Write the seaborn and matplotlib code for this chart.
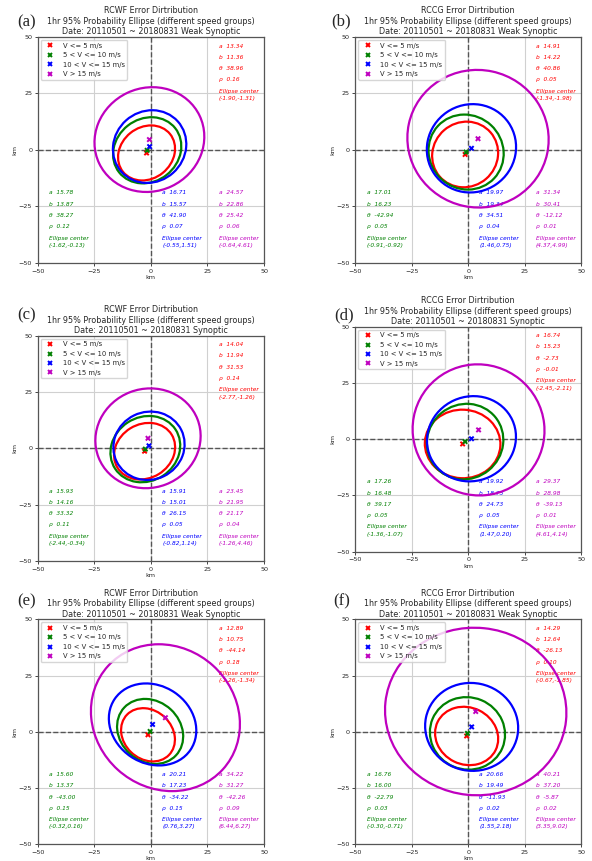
import numpy as np
import pandas as pd
import matplotlib
matplotlib.use('Agg')
import matplotlib.pyplot as plt
from matplotlib.patches import Ellipse
import seaborn as sns

# data
groups = ['V <= 5 m/s', '5 < V <= 10 m/s', '10 < V <= 15 m/s', 'V > 15 m/s']
colors = ['#ff0000', '#008000', '#0000ff', '#bf00bf']

letters = ['(a)', '(b)', '(c)', '(d)', '(e)', '(f)']
radars = ['RCWF', 'RCCG', 'RCWF', 'RCCG', 'RCWF', 'RCCG']
periods = ['Weak Synoptic', 'Weak Synoptic', 'Synoptic', 'Synoptic',
           'Weak Synoptic', 'Weak Synoptic']

semi_a = [[13.34, 15.78, 16.71, 24.57],
          [14.91, 17.01, 19.97, 31.34],
          [14.04, 15.93, 15.91, 23.45],
          [16.74, 17.26, 19.92, 29.37],
          [12.89, 15.60, 20.21, 34.22],
          [14.29, 16.76, 20.66, 40.21]]
semi_b = [[11.36, 13.87, 15.57, 22.86],
          [14.22, 16.23, 19.34, 30.41],
          [11.94, 14.16, 15.01, 21.95],
          [15.23, 16.48, 18.73, 28.98],
          [10.75, 13.37, 17.23, 31.27],
          [12.64, 16.00, 19.49, 37.20]]
theta = [[38.96, 38.27, 41.90, 25.42],
         [40.86, -42.94, 34.51, -12.12],
         [31.53, 33.32, 26.15, 21.17],
         [-2.73, 39.17, 24.73, -39.13],
         [-44.14, -43.00, -34.22, -42.26],
         [-26.13, -22.79, -11.93, -5.87]]
rho = [[0.16, 0.12, 0.07, 0.06],
       [0.05, 0.05, 0.04, 0.01],
       [0.14, 0.11, 0.05, 0.04],
       [-0.01, 0.05, 0.05, 0.01],
       [0.18, 0.15, 0.15, 0.09],
       [0.10, 0.03, 0.02, 0.02]]
center_x = [[-1.90, -1.62, -0.55, -0.64],
            [-1.34, -0.91, 1.46, 4.37],
            [-2.77, -2.44, -0.82, -1.26],
            [-2.45, -1.36, 1.47, 4.61],
            [-1.26, -0.32, 0.76, 6.44],
            [-0.67, -0.30, 1.55, 3.35]]
center_y = [[-1.31, -0.13, 1.51, 4.61],
            [-1.98, -0.92, 0.75, 4.99],
            [-1.26, -0.34, 1.14, 4.46],
            [-2.11, -1.07, 0.20, 4.14],
            [-1.34, 0.16, 3.27, 6.27],
            [-1.85, -0.71, 2.18, 9.02]]

# layout (pixels in the 592x861 image)
W, H = 592, 861
axes_px = [(37.7, 37, 264, 263), (355.3, 37, 581, 263),
           (37.7, 335.7, 264, 561), (355.3, 326.7, 581, 551.7),
           (37.7, 619.3, 264, 844.3), (355.3, 619.3, 581, 844.3)]
letter_px = [(17, 22), (331, 21), (17, 315), (334, 315), (17, 601), (333, 601)]
# where the stats blocks go (data coords): red top right, others along the bottom
text_x = [30, -45, 5, 30]
text_y0 = [46, -19, -19, -19]

sns.set_style('white')
plt.rcParams['font.family'] = ['DejaVu Sans']

fig = plt.figure(figsize=(W / 100, H / 100), dpi=100)

for k in range(6):
    l, t, r, b = axes_px[k]
    ax = fig.add_axes([l / W, 1 - b / H, (r - l) / W, (b - t) / H])

    df = pd.DataFrame({'cx': center_x[k], 'cy': center_y[k], 'group': groups})

    # stats text
    for i in range(4):
        x0, y0 = text_x[i], text_y0[i]
        kw = dict(color=colors[i], fontsize=4.2, fontstyle='italic',
                  ha='left', va='center', zorder=1)
        ax.text(x0, y0, f'a  {semi_a[k][i]:.2f}', **kw)
        ax.text(x0, y0 - 5, f'b  {semi_b[k][i]:.2f}', **kw)
        ax.text(x0, y0 - 10, f'θ  {theta[k][i]:.2f}', **kw)
        ax.text(x0, y0 - 15, f'ρ  {rho[k][i]:.2f}', **kw)
        ax.text(x0, y0 - 20, 'Ellipse center', **kw)
        ax.text(x0, y0 - 23.3, f'({center_x[k][i]:.2f},{center_y[k][i]:.2f})', **kw)

    # 95% ellipses
    for i in range(4):
        e = Ellipse((center_x[k][i], center_y[k][i]), 2 * semi_a[k][i], 2 * semi_b[k][i],
                    angle=theta[k][i], fill=False, edgecolor=colors[i], lw=1.6, zorder=3)
        ax.add_patch(e)

    ax.axhline(0, color='#555555', ls='--', lw=1.0, zorder=2)
    ax.axvline(0, color='#555555', ls='--', lw=1.0, zorder=2)

    sns.scatterplot(data=df, x='cx', y='cy', hue='group', palette=colors,
                    marker='x', s=10, linewidth=1.4, ax=ax, zorder=5)

    ax.set_xlim(-50, 50)
    ax.set_ylim(-50, 50)
    ax.set_xticks([-50, -25, 0, 25, 50])
    ax.set_yticks([-50, -25, 0, 25, 50])
    ax.grid(True, color='#d0d0d0', lw=0.8, zorder=0)
    ax.set_axisbelow(True)
    ax.tick_params(labelsize=4.6, length=2.5, width=0.6, pad=1.5,
                   left=True, bottom=True)
    for sp in ax.spines.values():
        sp.set_color('#555555')
        sp.set_linewidth(0.9)
    ax.set_xlabel('km', fontsize=4.6, labelpad=1)
    ax.set_ylabel('km', fontsize=4.6, labelpad=1)

    ax.set_title(f'{radars[k]} Error Dirtribution\n'
                 '1hr 95% Probability Ellipse (different speed groups)\n'
                 f'Date: 20110501 ~ 20180831 {periods[k]}',
                 fontsize=5.8, pad=2)

    handles, labels = ax.get_legend_handles_labels()
    ax.legend(handles, labels, loc='upper left', fontsize=4.9,
              borderaxespad=0.45, framealpha=0.8)

    fx, fy = letter_px[k]
    fig.text(fx / W, 1 - fy / H, letters[k], family='Liberation Serif',
             fontsize=12, ha='left', va='center')

fig.savefig('out.png', dpi=100)
